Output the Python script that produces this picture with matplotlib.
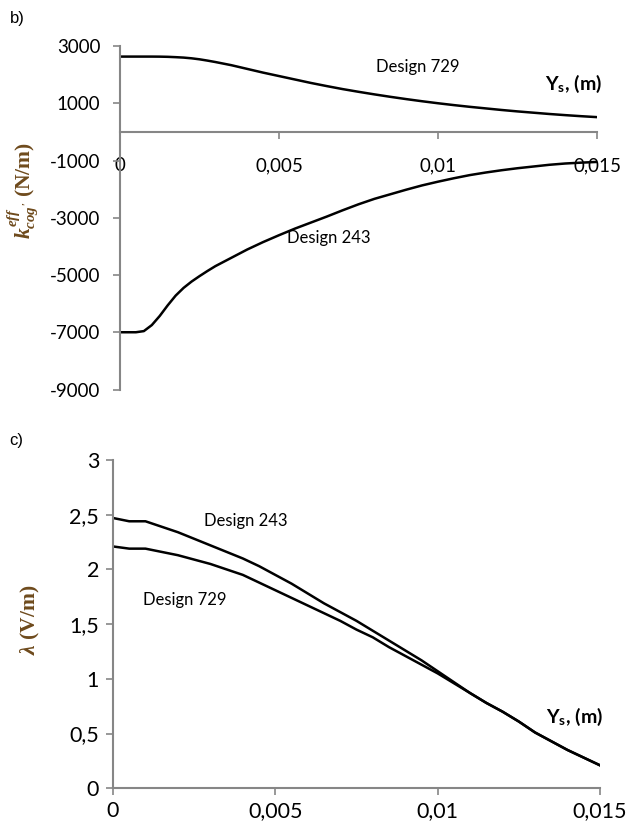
import numpy as np
import matplotlib
matplotlib.use("Agg")
from matplotlib import pyplot as plt
from matplotlib.ticker import FuncFormatter

# b) effective cogging stiffness (N/m) vs Ys (m)
ys_b = [0, 0.00025, 0.0005, 0.00075, 0.001, 0.00125, 0.0015, 0.00175, 0.002,
        0.00225, 0.0025, 0.00275, 0.003, 0.0035, 0.004, 0.0045, 0.005, 0.0055,
        0.006, 0.0065, 0.007, 0.0075, 0.008, 0.0085, 0.009, 0.0095, 0.01,
        0.0105, 0.011, 0.0115, 0.012, 0.0125, 0.013, 0.0135, 0.014, 0.0145, 0.015]
k729 = [2630, 2630, 2630, 2630, 2630, 2628, 2622, 2610, 2595,
        2570, 2535, 2490, 2440, 2330, 2200, 2070, 1950, 1830,
        1710, 1600, 1495, 1400, 1310, 1225, 1145, 1070, 1000,
        935, 875, 820, 765, 715, 670, 625, 585, 548, 515]
k243 = [-7000, -7000, -7000, -6960, -6750, -6430, -6060, -5720, -5450,
        -5230, -5040, -4860, -4690, -4400, -4110, -3850, -3610, -3380,
        -3170, -2960, -2740, -2530, -2340, -2180, -2020, -1870, -1740,
        -1620, -1510, -1420, -1340, -1270, -1210, -1150, -1105, -1075, -1050]

# c) lambda (V/m) vs Ys (m)
ys_c = [0, 0.0005, 0.001, 0.0015, 0.002, 0.0025, 0.003, 0.0035, 0.004, 0.0045,
        0.005, 0.0055, 0.006, 0.0065, 0.007, 0.0075, 0.008, 0.0085, 0.009, 0.0095,
        0.01, 0.0105, 0.011, 0.0115, 0.012, 0.0125, 0.013, 0.0135, 0.014, 0.0145, 0.015]
l243 = [2.47, 2.44, 2.44, 2.39, 2.34, 2.28, 2.22, 2.16, 2.10, 2.03,
        1.95, 1.87, 1.78, 1.69, 1.61, 1.53, 1.44, 1.35, 1.26, 1.17,
        1.07, 0.97, 0.87, 0.78, 0.70, 0.61, 0.51, 0.43, 0.35, 0.28, 0.21]
l729 = [2.21, 2.19, 2.19, 2.16, 2.13, 2.09, 2.05, 2.00, 1.95, 1.88,
        1.81, 1.74, 1.67, 1.60, 1.53, 1.45, 1.38, 1.29, 1.21, 1.13,
        1.05, 0.96, 0.87, 0.78, 0.70, 0.61, 0.51, 0.43, 0.35, 0.28, 0.21]

xticks = [0, 0.005, 0.01, 0.015]
xticklabels = ["0", "0,005", "0,01", "0,015"]
kticks = [3000, 1000, -1000, -3000, -5000, -7000, -9000]
lticks = [0, 0.5, 1, 1.5, 2, 2.5, 3]

plt.rcParams['font.family'] = ['Lato', 'DejaVu Sans']
plt.rcParams['mathtext.fontset'] = 'custom'
plt.rcParams['mathtext.it'] = 'Liberation Serif:italic:bold'
plt.rcParams['mathtext.rm'] = 'Liberation Serif:bold'

GRAY = '#868686'
LABC = '#6e4a1c'

fig = plt.figure(figsize=(6.3, 8.25), dpi=100)

def comma(v, pos):
    return ('%g' % v).replace('.', ',')

def style(ax, size):
    for s in ['top', 'right']:
        ax.spines[s].set_visible(False)
    for s in ['left', 'bottom']:
        ax.spines[s].set_color(GRAY)
        ax.spines[s].set_linewidth(1.5)
    ax.tick_params(axis='both', direction='out', length=5, width=1.2, color=GRAY,
                   labelsize=size)

# ---- b) ----
ax1 = fig.add_axes([120/630, 1-389.5/825, 477/630, 343.5/825])
ax1.plot(ys_b, k729, color='black', lw=1.8)
ax1.plot(ys_b, k243, color='black', lw=1.8)
ax1.set_xlim(0, 0.015)
ax1.set_ylim(-9000, 3000)
ax1.set_yticks(kticks)
ax1.yaxis.set_major_formatter(FuncFormatter(lambda v, p: '%d' % v))
ax1.set_xticks(xticks)
ax1.set_xticklabels(xticklabels)
style(ax1, 13.5)
ax1.spines['bottom'].set_position(('data', 0))
ax1.tick_params(axis='y', pad=9)
ax1.tick_params(axis='x', pad=13)
ax1.text(0.00935, 2280, 'Design 729', fontsize=12, ha='center', va='center')
ax1.text(0.00655, -3700, 'Design 243', fontsize=12, ha='center', va='center')
ax1.text(0.01425, 1660, r'Y$_\mathregular{s}$, (m)', fontsize=14, fontweight='bold',
         ha='center', va='center')
ax1.set_ylabel(r"$k^{eff}_{cog'}$ (N/m)", family='Liberation Serif', fontweight='bold',
               fontsize=15.5, color=LABC)
ax1.yaxis.set_label_coords(-0.168, 0.578)

# ---- c) ----
ax2 = fig.add_axes([113/630, 1-788.3/825, 487/630, 328.3/825])
ax2.plot(ys_c, l243, color='black', lw=1.8)
ax2.plot(ys_c, l729, color='black', lw=1.8)
ax2.set_xlim(0, 0.015)
ax2.set_ylim(0, 3)
ax2.set_yticks(lticks)
ax2.yaxis.set_major_formatter(FuncFormatter(comma))
ax2.set_xticks(xticks)
ax2.set_xticklabels(xticklabels)
style(ax2, 15.5)
ax2.tick_params(axis='y', pad=5)
ax2.tick_params(axis='x', pad=4)
ax2.text(0.0041, 2.44, 'Design 243', fontsize=12, ha='center', va='center')
ax2.text(0.0022, 1.72, 'Design 729', fontsize=12, ha='center', va='center')
ax2.text(0.0142, 0.65, r'Y$_\mathregular{s}$, (m)', fontsize=14, fontweight='bold',
         ha='center', va='center')
ax2.set_ylabel(r"$\lambda$ (V/m)", family='Liberation Serif', fontweight='bold',
               fontsize=15.5, color=LABC)
ax2.yaxis.set_label_coords(-0.146, 0.513)

fig.text(17/630, 1-19/825, 'b)', family='Liberation Sans', fontsize=12,
         ha='center', va='center')
fig.text(16/630, 1-441/825, 'c)', family='Liberation Sans', fontsize=12,
         ha='center', va='center')

fig.savefig('out.png', dpi=100)
